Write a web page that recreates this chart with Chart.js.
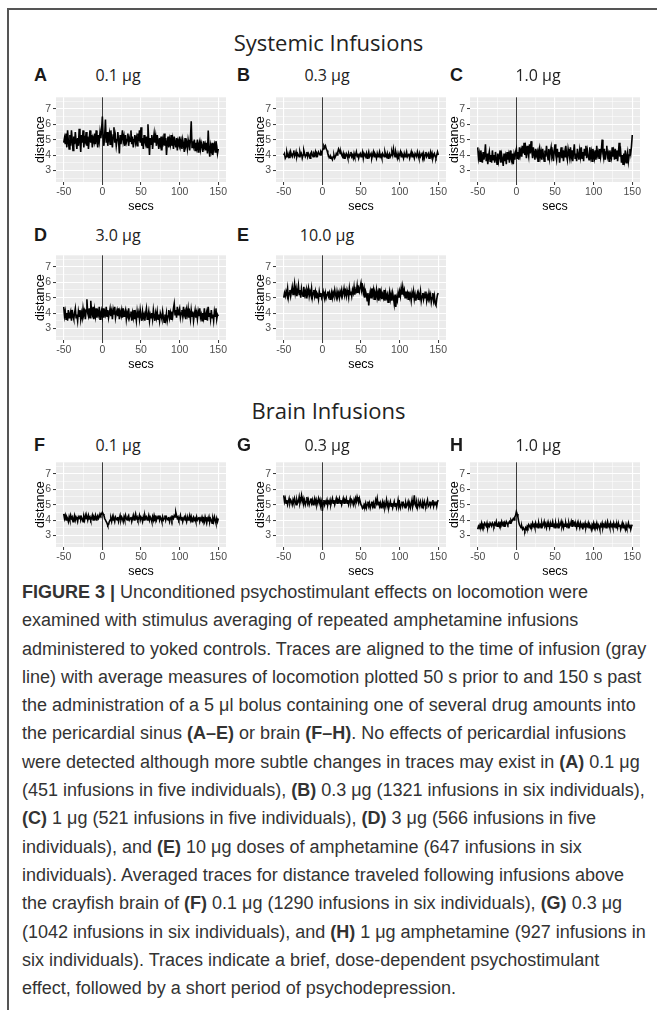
<!DOCTYPE html>
<html>
<head>
<meta charset="utf-8">
<script src="https://cdn.jsdelivr.net/npm/chart.js"></script>
<style>
body { margin: 0; background: #fff; }
#page { position: relative; width: 657px; height: 1013px; overflow: hidden; font-family: "Liberation Sans", Arial, sans-serif; }
#frame { position: absolute; left: 7px; top: 8px; width: 700px; height: 1000px; border-top: 2px solid #555; border-left: 2px solid #555; }
.head { position: absolute; left: 0; width: 657px; text-align: center; font-family: "Liberation Sans Narrow", "Open Sans", sans-serif; font-size: 22px; line-height: 24px; color: #222; }
.letter { position: absolute; font-weight: bold; font-size: 18px; line-height: 20px; color: #1a1a1a; }
.dose { position: absolute; width: 120px; text-align: center; font-family: "Liberation Sans Narrow", "Open Sans", sans-serif; font-size: 16px; line-height: 20px; color: #222; }
canvas { position: absolute; }
#caption { position: absolute; left: 22px; top: 578px; font-size: 18px; line-height: 28.3px; color: #333; white-space: nowrap; }
</style>
</head>
<body>
<div id="page">
<div id="frame"></div>
<div class="head" style="top:30px">Systemic Infusions</div>
<div class="head" style="top:398px">Brain Infusions</div>
<div id="caption">
<b>FIGURE 3 |</b> Unconditioned psychostimulant effects on locomotion were<br>
examined with stimulus averaging of repeated amphetamine infusions<br>
administered to yoked controls. Traces are aligned to the time of infusion (gray<br>
line) with average measures of locomotion plotted 50 s prior to and 150 s past<br>
the administration of a 5 μl bolus containing one of several drug amounts into<br>
the pericardial sinus <b>(A–E)</b> or brain <b>(F–H)</b>. No effects of pericardial infusions<br>
were detected although more subtle changes in traces may exist in <b>(A)</b> 0.1 μg<br>
(451 infusions in five individuals), <b>(B)</b> 0.3 μg (1321 infusions in six individuals),<br>
<b>(C)</b> 1 μg (521 infusions in five individuals), <b>(D)</b> 3 μg (566 infusions in five<br>
individuals), and <b>(E)</b> 10 μg doses of amphetamine (647 infusions in six<br>
individuals). Averaged traces for distance traveled following infusions above<br>
the crayfish brain of <b>(F)</b> 0.1 μg (1290 infusions in six individuals), <b>(G)</b> 0.3 μg<br>
(1042 infusions in six individuals), and <b>(H)</b> 1 μg amphetamine (927 infusions in<br>
six individuals). Traces indicate a brief, dose-dependent psychostimulant<br>
effect, followed by a short period of psychodepression.
</div>
</div>
<script>
// time axis (s relative to infusion), one sample per second
var secs = [
  -50, -49, -48, -47, -46, -45, -44, -43, -42, -41, -40, -39, -38, -37, -36, -35, -34, -33, -32, -31,
  -30, -29, -28, -27, -26, -25, -24, -23, -22, -21, -20, -19, -18, -17, -16, -15, -14, -13, -12, -11,
  -10, -9, -8, -7, -6, -5, -4, -3, -2, -1, 0, 1, 2, 3, 4, 5, 6, 7, 8, 9,
  10, 11, 12, 13, 14, 15, 16, 17, 18, 19, 20, 21, 22, 23, 24, 25, 26, 27, 28, 29,
  30, 31, 32, 33, 34, 35, 36, 37, 38, 39, 40, 41, 42, 43, 44, 45, 46, 47, 48, 49,
  50, 51, 52, 53, 54, 55, 56, 57, 58, 59, 60, 61, 62, 63, 64, 65, 66, 67, 68, 69,
  70, 71, 72, 73, 74, 75, 76, 77, 78, 79, 80, 81, 82, 83, 84, 85, 86, 87, 88, 89,
  90, 91, 92, 93, 94, 95, 96, 97, 98, 99, 100, 101, 102, 103, 104, 105, 106, 107, 108, 109,
  110, 111, 112, 113, 114, 115, 116, 117, 118, 119, 120, 121, 122, 123, 124, 125, 126, 127, 128, 129,
  130, 131, 132, 133, 134, 135, 136, 137, 138, 139, 140, 141, 142, 143, 144, 145, 146, 147, 148, 149,
  150
];
var infusionAt = 0;

// systemic infusions
var traceA = [
  4.8, 5.1, 4.7, 5.4, 4.5, 5.6, 4.9, 4.4, 5.3, 4.6, 5.6, 5.0, 4.3, 5.2, 4.7, 5.5, 4.9, 4.4, 5.1, 4.6,
  5.7, 5.0, 4.2, 5.3, 4.8, 5.6, 4.5, 5.1, 4.9, 5.5, 4.6, 5.2, 4.4, 5.0, 5.6, 4.8, 5.3, 4.5, 5.1, 4.9,
  5.4, 4.7, 5.6, 5.0, 4.5, 5.3, 4.9, 5.5, 5.1, 5.6, 6.5, 5.2, 4.6, 5.3, 6.3, 4.8, 5.5, 4.6, 5.1, 5.4,
  4.7, 5.6, 5.0, 4.5, 5.3, 5.8, 4.8, 5.2, 4.6, 5.0, 5.5, 4.9, 4.1, 5.3, 4.7, 5.1, 5.6, 4.9, 5.2, 4.6,
  5.3, 4.8, 5.0, 5.4, 4.6, 5.1, 4.9, 5.6, 4.7, 5.2, 4.5, 5.0, 5.3, 4.8, 5.1, 4.6, 5.4, 4.9, 5.6, 4.8,
  5.8, 4.6, 5.1, 4.4, 5.3, 4.9, 4.7, 5.2, 4.5, 6.0, 5.0, 4.0, 5.1, 4.7, 5.3, 4.4, 5.0, 5.4, 4.8, 5.2,
  4.6, 5.3, 4.9, 4.4, 5.1, 4.7, 5.2, 4.3, 5.0, 4.8, 5.4, 4.6, 5.1, 4.0, 4.8, 5.2, 4.5, 5.0, 4.7, 5.3,
  4.6, 5.0, 4.4, 5.2, 4.8, 4.5, 5.1, 4.3, 4.9, 4.7, 5.2, 4.6, 4.9, 4.4, 5.0, 4.7, 4.2, 5.1, 4.6, 4.8,
  4.4, 5.0, 4.7, 4.3, 5.1, 6.2, 4.5, 4.9, 4.6, 5.0, 4.3, 4.8, 4.5, 5.0, 4.2, 4.7, 4.9, 4.4, 4.8, 4.6,
  4.2, 4.9, 4.5, 4.7, 4.3, 4.8, 4.1, 5.6, 4.4, 3.9, 4.6, 4.3, 4.8, 4.0, 4.5, 4.7, 4.2, 4.9, 4.6, 4.1,
  4.4
];
var traceB = [
  4.0, 4.1, 3.8, 3.9, 4.2, 4.0, 3.9, 4.1, 3.8, 4.2, 4.0, 3.9, 4.1, 4.3, 3.9, 4.0, 4.2, 3.9, 4.1, 4.0,
  3.9, 4.2, 4.0, 4.1, 3.8, 4.0, 4.3, 4.1, 3.9, 4.0, 4.2, 3.9, 4.1, 4.0, 3.8, 4.1, 4.2, 4.0, 3.9, 4.1,
  4.0, 4.2, 3.9, 4.1, 4.0, 4.2, 4.1, 4.0, 4.2, 4.1, 4.3, 4.4, 4.6, 4.5, 4.6, 4.4, 4.3, 4.1, 4.0, 3.9,
  3.8, 3.9, 3.8, 3.7, 3.9, 4.0, 3.8, 3.9, 4.1, 4.0, 4.2, 4.4, 4.3, 4.1, 4.2, 4.0, 3.9, 4.1, 3.8, 4.0,
  3.9, 4.1, 4.0, 3.8, 4.1, 3.9, 4.0, 4.2, 3.9, 4.0, 3.8, 4.1, 3.9, 4.0, 4.2, 3.9, 4.1, 3.8, 4.0, 4.1,
  3.9, 4.0, 4.2, 3.8, 4.1, 4.0, 3.9, 4.1, 3.8, 4.0, 4.2, 3.9, 4.0, 4.1, 3.8, 4.0, 4.2, 3.9, 4.1, 4.0,
  3.8, 4.1, 3.9, 4.0, 4.2, 3.9, 4.0, 3.8, 4.1, 4.0, 3.9, 4.2, 4.0, 3.9, 4.1, 3.8, 4.0, 4.1, 3.9, 4.0,
  4.2, 4.0, 4.4, 4.1, 3.9, 4.2, 4.0, 3.8, 4.1, 3.9, 4.0, 4.2, 3.9, 4.1, 4.0, 3.8, 4.1, 3.9, 4.0, 4.2,
  3.9, 4.0, 4.1, 3.8, 4.0, 4.2, 3.9, 4.1, 4.0, 3.8, 4.1, 4.0, 3.9, 4.2, 4.0, 3.8, 4.1, 3.9, 4.0, 4.1,
  3.9, 4.1, 3.8, 4.0, 4.2, 3.9, 4.0, 4.1, 3.8, 4.0, 4.2, 3.9, 4.1, 3.8, 4.0, 4.1, 3.9, 3.8, 4.0, 4.2,
  4.0
];
var traceC = [
  4.5, 3.8, 4.1, 3.6, 4.3, 3.9, 3.5, 4.2, 3.7, 4.0, 4.7, 3.6, 4.1, 3.4, 3.9, 4.2, 3.6, 4.0, 3.5, 4.3,
  3.7, 4.0, 3.5, 4.2, 3.8, 3.4, 4.1, 3.6, 3.9, 4.3, 3.5, 4.0, 3.7, 3.3, 4.1, 3.6, 3.9, 3.4, 4.2, 3.7,
  4.0, 3.5, 4.3, 3.8, 3.6, 4.1, 3.4, 4.0, 3.7, 4.2, 4.4, 3.8, 4.2, 3.7, 4.5, 4.0, 4.3, 3.9, 4.6, 4.1,
  4.8, 4.0, 4.4, 3.8, 4.6, 4.2, 3.9, 4.7, 4.1, 4.9, 4.3, 3.8, 4.5, 4.1, 3.7, 4.4, 4.0, 4.2, 3.6, 4.3,
  4.5, 3.9, 4.2, 3.7, 4.4, 4.0, 3.6, 4.3, 3.9, 4.6, 4.1, 3.7, 4.4, 3.8, 4.2, 4.5, 3.9, 4.1, 3.6, 4.3,
  4.7, 4.0, 3.7, 4.4, 3.9, 4.2, 3.5, 4.1, 4.5, 3.8, 4.3, 3.6, 4.2, 3.9, 4.6, 4.0, 3.7, 4.4, 4.1, 3.8,
  4.5, 3.9, 4.3, 3.6, 4.2, 4.7, 3.8, 4.1, 3.6, 4.4, 4.0, 3.7, 4.3, 3.9, 4.5, 3.8, 4.2, 3.6, 4.4, 4.0,
  4.6, 3.8, 4.3, 4.0, 3.7, 4.5, 3.9, 4.2, 3.6, 4.4, 4.1, 3.8, 4.3, 3.7, 4.6, 4.0, 4.2, 3.8, 4.4, 3.9,
  4.3, 5.0, 4.1, 3.8, 4.4, 3.7, 4.2, 4.6, 3.9, 4.1, 3.6, 4.3, 4.0, 3.8, 4.5, 3.9, 4.2, 3.7, 4.4, 3.8,
  4.3, 3.6, 4.1, 4.8, 3.9, 4.2, 3.5, 4.0, 3.4, 4.1, 3.7, 4.3, 3.5, 3.9, 4.2, 3.6, 4.0, 4.4, 4.1, 4.6,
  5.3
];
var traceD = [
  4.4, 3.8, 4.1, 3.6, 4.0, 3.5, 4.2, 3.7, 3.9, 4.1, 3.5, 4.2, 3.8, 3.6, 4.0, 4.3, 3.7, 3.9, 3.5, 4.1,
  3.8, 4.2, 3.6, 4.0, 3.7, 4.3, 3.9, 4.1, 3.6, 4.2, 4.9, 4.0, 3.8, 4.3, 3.7, 4.8, 4.1, 3.9, 4.4, 3.6,
  4.2, 3.8, 4.3, 3.7, 4.1, 3.9, 4.4, 3.6, 4.0, 4.2, 3.8, 4.3, 3.7, 4.1, 3.9, 4.4, 3.8, 4.2, 3.7, 4.0,
  4.3, 3.8, 4.1, 3.6, 4.2, 3.9, 4.4, 3.7, 4.0, 4.2, 3.8, 4.3, 3.6, 4.1, 3.9, 4.2, 3.7, 4.3, 3.8, 4.0,
  4.2, 3.6, 4.0, 3.8, 4.3, 3.7, 3.9, 4.1, 3.5, 4.0, 3.7, 4.2, 3.6, 3.9, 3.5, 4.1, 3.7, 4.0, 3.6, 4.2,
  3.8, 3.5, 4.1, 3.7, 3.9, 3.5, 4.0, 4.3, 3.6, 3.8, 4.1, 3.5, 3.9, 3.7, 4.0, 3.6, 4.2, 3.8, 3.5, 4.0,
  3.7, 4.1, 3.6, 3.9, 3.5, 4.0, 3.8, 3.6, 4.1, 3.7, 3.4, 3.9, 3.6, 4.0, 3.5, 3.8, 4.2, 3.7, 4.0, 3.6,
  4.1, 3.8, 4.3, 4.6, 3.9, 4.2, 3.7, 4.4, 3.9, 4.1, 4.3, 3.7, 4.0, 4.2, 3.8, 4.4, 3.9, 4.1, 3.6, 4.2,
  3.9, 4.3, 3.7, 4.0, 3.6, 4.2, 3.8, 4.1, 3.5, 3.9, 4.2, 3.7, 4.0, 3.6, 4.1, 3.8, 4.3, 3.7, 3.9, 3.5,
  4.0, 3.7, 4.3, 3.6, 3.9, 4.1, 3.5, 4.4, 3.8, 4.0, 3.6, 4.2, 3.7, 3.9, 3.5, 4.1, 3.8, 4.3, 3.6, 3.9,
  3.8
];
var traceE = [
  5.0, 5.3, 5.1, 5.4, 5.2, 5.6, 5.0, 5.3, 5.5, 5.1, 5.4, 5.7, 5.2, 5.5, 5.9, 5.3, 5.6, 5.1, 5.4, 5.8,
  5.2, 5.5, 5.0, 5.6, 5.3, 5.1, 5.7, 5.2, 5.4, 5.0, 5.5, 5.3, 5.6, 5.1, 5.4, 5.2, 5.6, 5.0, 5.3, 5.5,
  5.1, 5.4, 5.0, 5.3, 5.2, 4.9, 5.4, 5.1, 5.3, 5.0, 5.2, 5.4, 5.1, 4.9, 5.3, 5.0, 5.2, 5.4, 5.1, 5.3,
  4.9, 5.2, 5.4, 5.0, 5.3, 5.1, 5.5, 5.2, 5.0, 5.4, 5.1, 5.3, 5.0, 5.4, 5.2, 5.5, 5.1, 5.3, 5.6, 5.2,
  5.4, 5.1, 5.5, 5.3, 5.0, 5.6, 5.2, 5.4, 5.1, 5.5, 5.3, 5.7, 5.2, 5.5, 5.4, 5.8, 5.3, 5.6, 5.4, 5.7,
  5.95, 5.5, 5.7, 5.3, 5.6, 5.0, 5.4, 5.2, 4.8, 5.3, 4.5, 5.1, 5.4, 5.0, 5.6, 5.2, 5.5, 4.9, 5.3, 5.1,
  5.5, 5.0, 5.3, 4.8, 5.6, 5.1, 5.4, 4.9, 5.2, 5.0, 5.5, 4.8, 5.3, 5.0, 5.2, 4.7, 5.1, 5.4, 4.9, 5.2,
  4.8, 5.3, 5.0, 4.6, 5.2, 4.4, 5.0, 4.8, 5.3, 5.0, 5.4, 5.1, 5.6, 5.2, 5.7, 5.3, 5.5, 5.0, 5.4, 5.1,
  5.3, 4.9, 5.4, 5.0, 5.2, 4.8, 5.3, 5.0, 5.4, 4.9, 5.2, 4.8, 5.1, 5.3, 4.9, 5.2, 5.0, 5.4, 4.8, 5.1,
  5.3, 4.9, 5.2, 5.0, 5.4, 4.8, 5.1, 4.9, 5.3, 5.0, 5.2, 4.7, 5.0, 5.3, 4.8, 5.1, 4.6, 4.5, 4.9, 5.2,
  5.3
];

// brain infusions
var traceF = [
  4.4, 4.1, 4.3, 4.0, 4.2, 4.1, 3.9, 4.2, 4.0, 4.3, 4.1, 4.2, 3.9, 4.1, 4.3, 4.0, 4.2, 4.1, 3.9, 4.2,
  4.1, 4.3, 4.0, 4.2, 4.1, 3.9, 4.2, 4.0, 4.3, 4.1, 4.2, 4.0, 4.3, 4.1, 4.2, 4.0, 4.1, 4.3, 4.0, 4.2,
  4.1, 4.3, 4.0, 4.2, 4.3, 4.1, 4.2, 4.4, 4.3, 4.4, 4.5, 4.4, 4.3, 4.1, 4.0, 3.9, 3.8, 3.65, 3.7, 3.9,
  4.0, 4.1, 3.9, 4.2, 4.0, 4.1, 3.9, 4.2, 4.1, 4.0, 4.2, 3.9, 4.1, 4.3, 4.0, 4.2, 4.1, 3.9, 4.2, 4.0,
  4.3, 4.1, 4.0, 4.2, 4.3, 4.0, 4.1, 4.2, 3.9, 4.1, 4.3, 4.0, 4.2, 4.4, 4.1, 4.2, 4.0, 4.1, 4.3, 4.0,
  4.2, 4.1, 3.9, 4.2, 4.0, 4.3, 4.1, 4.2, 4.0, 4.1, 4.3, 4.0, 4.2, 4.1, 3.9, 4.2, 4.0, 4.3, 4.1, 4.2,
  4.0, 4.2, 4.1, 4.3, 4.0, 4.2, 4.1, 3.9, 4.2, 4.0, 4.1, 4.3, 4.0, 4.2, 4.1, 4.0, 4.2, 3.9, 4.1, 4.2,
  4.0, 4.2, 4.1, 4.3, 4.2, 4.5, 4.3, 4.1, 4.2, 4.0, 4.1, 4.3, 4.0, 4.2, 3.9, 4.1, 4.2, 4.0, 4.1, 3.9,
  4.2, 4.0, 4.1, 4.3, 4.0, 4.2, 3.9, 4.1, 4.2, 4.0, 4.1, 3.9, 4.2, 4.0, 4.1, 4.2, 3.9, 4.1, 4.0, 4.2,
  4.0, 4.1, 3.9, 4.2, 4.0, 3.8, 4.1, 4.0, 4.2, 3.9, 4.1, 4.0, 3.8, 4.1, 3.9, 4.2, 4.0, 3.8, 4.1, 3.9,
  4.1
];
var traceG = [
  5.6, 5.2, 5.4, 5.1, 5.3, 5.0, 5.2, 5.4, 5.1, 5.3, 5.2, 5.0, 5.3, 5.1, 5.4, 5.2, 5.0, 5.3, 5.1, 5.2,
  5.5, 5.1, 5.3, 5.6, 5.2, 5.4, 5.1, 5.3, 5.0, 5.2, 5.5, 5.1, 5.3, 5.0, 5.2, 5.4, 5.1, 5.3, 5.0, 5.2,
  5.4, 5.1, 5.3, 5.0, 5.2, 5.4, 5.1, 5.3, 5.0, 5.2, 4.6, 5.1, 5.3, 5.0, 5.2, 5.1, 5.3, 5.0, 5.2, 5.1,
  5.3, 5.0, 5.2, 5.4, 5.1, 5.3, 5.0, 5.2, 5.4, 5.1, 5.3, 5.2, 5.4, 5.1, 5.3, 5.0, 5.2, 5.4, 5.1, 5.3,
  5.2, 5.4, 5.1, 5.3, 5.0, 5.2, 5.4, 5.1, 5.3, 5.2, 5.0, 5.3, 5.1, 5.4, 5.2, 5.5, 5.3, 5.1, 5.4, 5.2,
  5.0, 4.9, 4.75, 4.8, 5.0, 4.9, 5.1, 4.8, 5.0, 5.2, 4.9, 5.1, 4.8, 5.0, 5.2, 4.9, 5.1, 4.8, 5.0, 5.3,
  5.1, 5.4, 5.0, 5.2, 4.9, 5.1, 4.8, 5.0, 5.2, 4.9, 5.1, 4.8, 5.0, 5.3, 4.9, 5.1, 4.8, 5.0, 5.2, 4.9,
  5.1, 4.8, 5.0, 5.2, 4.9, 5.1, 4.8, 5.0, 5.3, 4.9, 5.1, 4.8, 5.0, 5.2, 4.9, 5.1, 5.0, 4.8, 5.1, 4.9,
  5.0, 5.2, 4.9, 5.1, 4.8, 5.0, 5.3, 4.9, 5.1, 5.6, 5.0, 4.9, 5.2, 4.8, 5.0, 5.1, 4.9, 5.2, 5.0, 4.8,
  5.1, 4.9, 5.2, 5.0, 4.9, 5.1, 5.3, 4.9, 5.0, 5.2, 4.9, 5.1, 5.0, 5.3, 4.9, 5.1, 5.0, 5.2, 4.9, 5.2,
  5.3
];
var traceH = [
  3.4, 3.6, 3.5, 3.7, 3.6, 3.8, 3.5, 3.7, 3.6, 3.8, 3.7, 3.6, 3.8, 3.5, 3.7, 3.6, 3.8, 3.7, 3.6, 3.8,
  3.7, 3.6, 3.8, 3.7, 3.9, 3.6, 3.7, 3.8, 3.6, 3.8, 3.7, 3.9, 3.7, 3.8, 3.6, 3.8, 3.7, 3.9, 3.8, 3.7,
  3.8, 3.9, 3.8, 4.0, 3.9, 4.0, 4.1, 4.0, 4.2, 4.3, 4.55, 4.4, 4.2, 3.9, 3.7, 3.6, 3.5, 3.6, 3.4, 3.5,
  3.4, 3.3, 3.5, 3.4, 3.6, 3.5, 3.7, 3.6, 3.5, 3.7, 3.6, 3.8, 3.6, 3.7, 3.5, 3.8, 3.6, 3.7, 3.5, 3.8,
  3.6, 3.7, 3.5, 3.8, 3.6, 3.7, 3.9, 3.6, 3.7, 3.5, 3.8, 3.6, 3.7, 3.5, 3.8, 3.6, 3.7, 3.9, 3.6, 3.7,
  3.5, 3.8, 3.6, 3.7, 3.5, 3.8, 3.6, 3.7, 3.9, 3.6, 3.8, 3.5, 3.7, 3.6, 3.8, 3.6, 3.7, 3.5, 3.8, 3.6,
  3.7, 3.9, 3.6, 4.0, 3.7, 3.8, 3.6, 3.7, 3.5, 3.8, 3.6, 3.7, 3.5, 3.8, 3.6, 3.7, 3.4, 3.7, 3.6, 3.8,
  3.5, 3.7, 3.6, 3.8, 3.5, 3.7, 3.6, 3.4, 3.7, 3.6, 3.8, 3.5, 3.7, 3.6, 3.8, 3.5, 3.7, 3.6, 3.4, 3.7,
  3.6, 3.8, 3.5, 3.7, 3.6, 3.8, 3.5, 3.7, 3.9, 3.6, 3.7, 3.5, 3.8, 3.6, 3.7, 3.5, 3.8, 3.6, 3.7, 3.5,
  3.7, 3.5, 3.8, 3.6, 3.7, 3.4, 3.6, 3.8, 3.5, 3.7, 3.6, 3.4, 3.7, 3.5, 3.6, 3.8, 3.5, 3.7, 3.4, 3.6,
  3.7
];

var xMajor = [-50, 0, 50, 100, 150];
var xMinor = [-25, 25, 75, 125];
var yMajor = [3, 4, 5, 6, 7];
var yMinor = [2.5, 3.5, 4.5, 5.5, 6.5, 7.5];

// layout: gray plot area top-left corners, letter x, title centre x
var PLOT_W = 170, PLOT_H = 93;
var Y_AXIS_W = 23, X_AXIS_H = 32, RIGHT_PAD = 12;
var panels = [
  {key: 'A', dose: '0.1 μg', values: traceA, left: 56,  top: 89,  labelTop: 65,  letterX: 34,  doseX: 118},
  {key: 'B', dose: '0.3 μg', values: traceB, left: 276, top: 89,  labelTop: 65,  letterX: 237, doseX: 327},
  {key: 'C', dose: '1.0 μg', values: traceC, left: 470, top: 89,  labelTop: 65,  letterX: 450, doseX: 538},
  {key: 'D', dose: '3.0 μg', values: traceD, left: 56,  top: 247, labelTop: 225, letterX: 34,  doseX: 118},
  {key: 'E', dose: '10.0 μg', values: traceE, left: 276, top: 247, labelTop: 225, letterX: 237, doseX: 327},
  {key: 'F', dose: '0.1 μg', values: traceF, left: 56,  top: 454, labelTop: 435, letterX: 34,  doseX: 118},
  {key: 'G', dose: '0.3 μg', values: traceG, left: 276, top: 454, labelTop: 435, letterX: 237, doseX: 327},
  {key: 'H', dose: '1.0 μg', values: traceH, left: 470, top: 454, labelTop: 435, letterX: 450, doseX: 538}
];

var page = document.getElementById('page');
var FONT = '"Liberation Sans", Arial, sans-serif';

var panelBg = {
  id: 'panelBg',
  beforeDraw: function(chart) {
    var a = chart.chartArea, ctx = chart.ctx;
    ctx.save();
    ctx.fillStyle = '#ebebeb';
    ctx.fillRect(a.left, a.top, a.right - a.left, a.bottom - a.top);
    ctx.restore();
  }
};

// gray infusion line
var infusionLine = {
  id: 'infusionLine',
  beforeDatasetsDraw: function(chart) {
    var a = chart.chartArea, ctx = chart.ctx;
    var px = Math.round(chart.scales.x.getPixelForValue(infusionAt)) + 0.5;
    ctx.save();
    ctx.strokeStyle = '#3c3c3c';
    ctx.lineWidth = 1;
    ctx.beginPath();
    ctx.moveTo(px, a.top);
    ctx.lineTo(px, a.bottom);
    ctx.stroke();
    ctx.restore();
  }
};

function isIn(list, v) {
  return list.some(function(m) { return Math.abs(m - v) < 1e-6; });
}

function makePanel(p) {
  var letter = document.createElement('div');
  letter.className = 'letter';
  letter.style.left = p.letterX + 'px';
  letter.style.top = p.labelTop + 'px';
  letter.textContent = p.key;
  page.appendChild(letter);

  var dose = document.createElement('div');
  dose.className = 'dose';
  dose.style.left = (p.doseX - 60) + 'px';
  dose.style.top = p.labelTop + 'px';
  dose.textContent = p.dose;
  page.appendChild(dose);

  var cv = document.createElement('canvas');
  cv.width = Y_AXIS_W + PLOT_W + RIGHT_PAD;
  cv.height = PLOT_H + X_AXIS_H;
  cv.style.left = (p.left - Y_AXIS_W) + 'px';
  cv.style.top = p.top + 'px';
  page.appendChild(cv);

  var pts = secs.map(function(s, i) { return {x: s, y: p.values[i]}; });

  new Chart(cv, {
    type: 'line',
    data: {
      datasets: [{
        data: pts,
        borderColor: '#000',
        borderWidth: 1.6,
        pointRadius: 0,
        tension: 0,
        fill: false
      }]
    },
    options: {
      responsive: false,
      animation: false,
      events: [],
      layout: { padding: { left: 0, right: RIGHT_PAD, top: 0, bottom: 0 }, autoPadding: false },
      plugins: { legend: { display: false }, tooltip: { enabled: false } },
      scales: {
        x: {
          type: 'linear',
          min: -60,
          max: 160,
          afterBuildTicks: function(s) {
            s.ticks = xMinor.concat(xMajor).sort(function(a, b) { return a - b; }).map(function(v) { return {value: v}; });
          },
          afterFit: function(s) { s.height = X_AXIS_H; },
          border: { display: false },
          grid: {
            color: '#fff',
            lineWidth: function(c) { return c.tick && isIn(xMajor, c.tick.value) ? 1.1 : 0.5; },
            tickLength: 3,
            tickWidth: 1,
            tickColor: function(c) { return c.tick && isIn(xMajor, c.tick.value) ? '#333' : 'rgba(0,0,0,0)'; }
          },
          ticks: {
            autoSkip: false,
            maxRotation: 0,
            padding: 1,
            color: '#4d4d4d',
            font: { size: 10.5, family: FONT },
            callback: function(v) { return isIn(xMajor, v) ? String(v) : ''; }
          },
          title: { display: true, text: 'secs', color: '#000', padding: 0, font: { size: 12.5, family: FONT } }
        },
        y: {
          type: 'linear',
          min: 2.25,
          max: 7.75,
          afterBuildTicks: function(s) {
            s.ticks = yMinor.concat(yMajor).sort(function(a, b) { return a - b; }).map(function(v) { return {value: v}; });
          },
          afterFit: function(s) { s.width = Y_AXIS_W; },
          border: { display: false },
          grid: {
            color: '#fff',
            lineWidth: function(c) { return c.tick && isIn(yMajor, c.tick.value) ? 1.1 : 0.5; },
            tickLength: 3,
            tickWidth: 1,
            tickColor: function(c) { return c.tick && isIn(yMajor, c.tick.value) ? '#333' : 'rgba(0,0,0,0)'; }
          },
          ticks: {
            autoSkip: false,
            padding: 2,
            color: '#4d4d4d',
            font: { size: 10.5, family: FONT },
            callback: function(v) { return isIn(yMajor, v) ? String(v) : ''; }
          },
          title: { display: true, text: 'distance', color: '#000', padding: 0, font: { size: 12.5, family: FONT } }
        }
      }
    },
    plugins: [panelBg, infusionLine]
  });
}

panels.forEach(makePanel);
</script>
</body>
</html>
